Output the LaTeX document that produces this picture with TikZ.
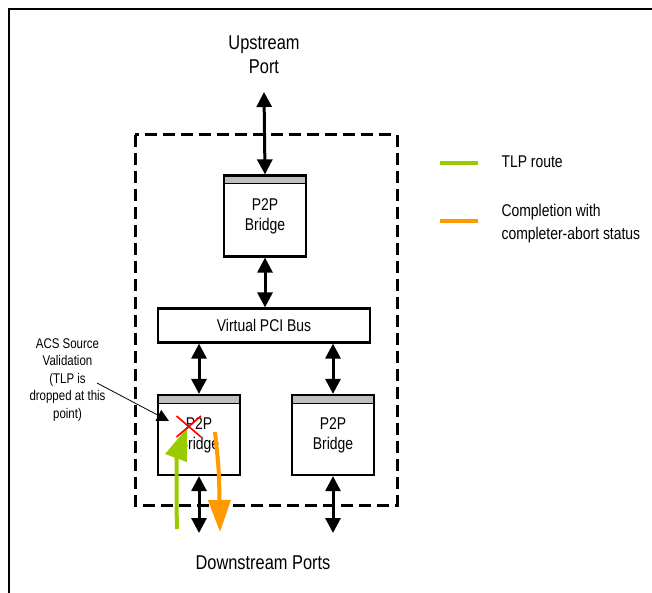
\documentclass[tikz,border=0pt]{standalone}
\usepackage{fontspec}
\setmainfont[FakeStretch=0.82]{Liberation Sans}
\usetikzlibrary{arrows.meta}

\definecolor{tlpgreen}{HTML}{99CC00}
\definecolor{cplorange}{HTML}{FF9900}
\definecolor{bargray}{HTML}{BFBFBF}

\begin{document}
\begin{tikzpicture}[x=1pt,y=-1pt,
    box/.style={draw,line width=2.2pt,fill=white,font=\fontsize{17}{20}\selectfont,align=center},
    bridge/.style={box,minimum width=82pt,minimum height=81pt,
        path picture={\fill[bargray] (path picture bounding box.north west)
            rectangle ([yshift=-8pt]path picture bounding box.north east);
            \draw[line width=1pt] ([yshift=-8pt]path picture bounding box.north west)
            -- ([yshift=-8pt]path picture bounding box.north east);}},
    link/.style={line width=3pt,{Triangle[length=15pt,width=15pt]}-{Triangle[length=15pt,width=15pt]}},
    route/.style={line width=4pt,-{Triangle[length=32pt,width=22pt]}},
    portlabel/.style={font=\fontsize{20}{24}\selectfont,align=center},
    keylabel/.style={font=\fontsize{17}{23}\selectfont,align=left,anchor=west}]
    \useasboundingbox (0,0) rectangle (652,593);

    % frame and switch outline
    \draw[line width=2.5pt] (9,593) -- (9,9) -- (652,9);
    \draw[line width=3pt,dash pattern=on 12pt off 6pt] (135,135) rectangle (397,505);

    % blocks
    \node[bridge] (topbridge) at (265,216) {P2P\\Bridge};
    \node[box,minimum width=212pt,minimum height=34pt] (vbus) at (264,325.5) {Virtual PCI Bus};
    \node[bridge,minimum height=80pt] (leftbridge) at (199,435) {P2P\\Bridge};
    \node[bridge,minimum height=80pt] (rightbridge) at (333,435) {P2P\\Bridge};

    \node[portlabel] (upport) at (264,55) {Upstream\\Port};
    \node[portlabel] (downports) at (263,563) {Downstream Ports};
    \coordinate (uptip) at (264,92);
    \coordinate (lefttip) at (199,533);
    \coordinate (righttip) at (333,533);

    % links
    \draw[link] (uptip) -- (topbridge.north);
    \draw[link] (topbridge.south) -- (vbus.north -| topbridge.south);
    \draw[link] (vbus.south -| leftbridge.north) -- (leftbridge.north);
    \draw[link] (vbus.south -| rightbridge.north) -- (rightbridge.north);
    \draw[link] (leftbridge.south) -- (lefttip);
    \draw[link] (rightbridge.south) -- (righttip);

    % dropped TLP and completion
    \coordinate (tlpstart) at (177,529);
    \coordinate (tlpend) at (187,428);
    \coordinate (cplstart) at (215,432);
    \coordinate (cplend) at (220,532);
    \draw[route,tlpgreen] (tlpstart) .. controls (176,490) and (177,455) .. (tlpend);
    \draw[route,cplorange] (cplstart) .. controls (219,470) .. (cplend);
    \draw[red,line width=1.6pt] (176.5,416) -- (201,437) (176.5,437) -- (201,416);

    % note
    \node[font=\fontsize{14}{17.5}\selectfont,align=center] (acsnote) at (67.5,380)
        {ACS Source\\Validation\\(TLP is\\dropped at this\\point)};
    \coordinate (acsfrom) at (97,383);
    \coordinate (acsto) at (169,421);
    \draw[line width=0.8pt,-{Triangle[length=12pt,width=12pt]}] (acsfrom) -- (acsto);

    % legend
    \draw[tlpgreen,line width=4pt] (440,163) -- (478,163);
    \node[keylabel] (tlpkey) at (498,162) {TLP route};
    \draw[cplorange,line width=4pt] (440,221) -- (478,221);
    \node[keylabel] (cplkey) at (498,223.5) {Completion with\\completer-abort status};
\end{tikzpicture}
\end{document}
